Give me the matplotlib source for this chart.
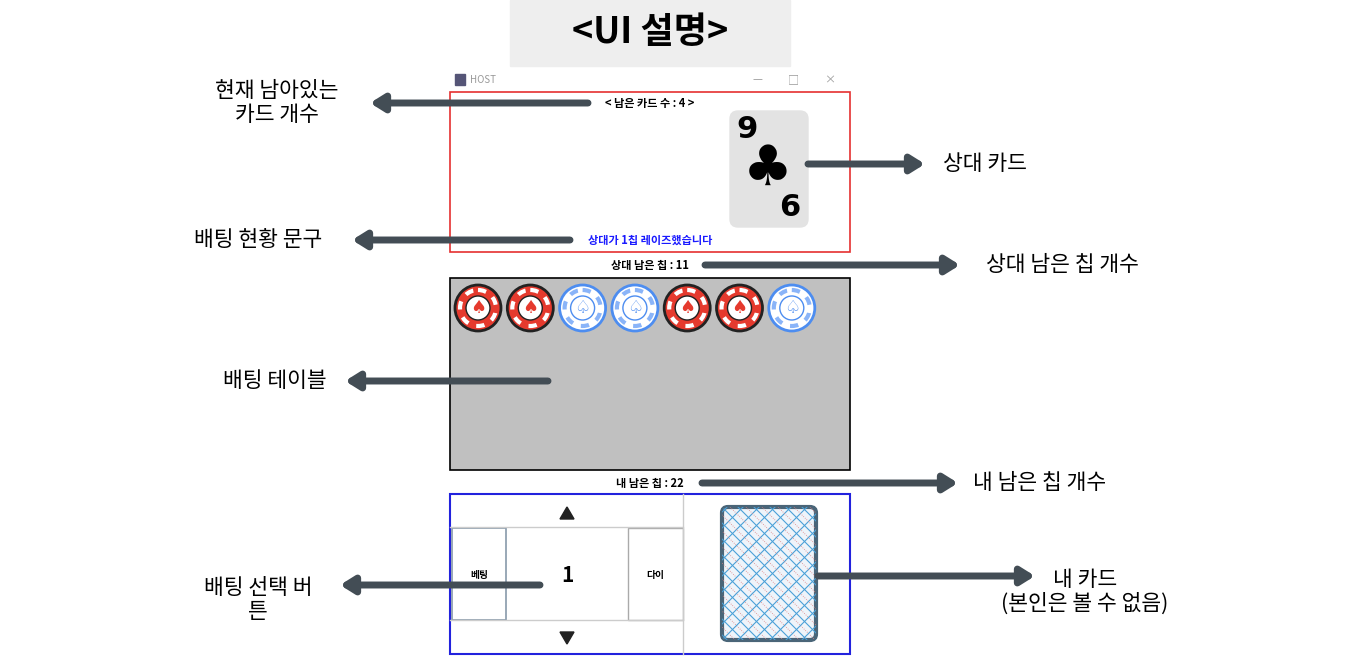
import matplotlib
matplotlib.use("Agg")
import matplotlib.pyplot as plt
from matplotlib.patches import Rectangle, Circle, FancyBboxPatch, Polygon

plt.rcParams['font.family'] = ['Noto Sans CJK KR', 'DejaVu Sans']

title = "<UI 설명>"
remaining_cards = 4
opp_chips = 11
my_chips = 22
bet_amount = 1
status_msg = "상대가 1칩 레이즈했습니다"
chip_colors = ["red", "red", "blue", "blue", "red", "red", "blue"]
# (text, text x, text y, arrow y, arrow start x, arrow end x)
labels = [("현재 남아있는\n카드 개수", 277, 103, 103, 588, 370),
          ("배팅 현황 문구", 258, 240, 240, 570, 352),
          ("배팅 테이블", 275, 381, 381, 548, 345),
          ("배팅 선택 버\n튼", 258, 600, 585, 540, 340),
          ("상대 카드", 985, 164, 164, 808, 925),
          ("상대 남은 칩 개수", 1062, 265, 265, 705, 960),
          ("내 남은 칩 개수", 1040, 483, 483, 702, 958),
          ("내 카드\n(본인은 볼 수 없음)", 1085, 592, 576, 818, 1035)]

fig = plt.figure(figsize=(13.63, 6.63), dpi=100)
ax = fig.add_axes([0, 0, 1, 1])
ax.set_xlim(0, 1363); ax.set_ylim(663, 0); ax.axis('off')

ax.add_patch(Rectangle((510, 0), 280, 66, color='#eeeeee'))
ax.text(650, 33, title, ha='center', va='center', fontsize=26, fontweight='bold')

ax.text(470, 80, "HOST", fontsize=7, color='#999999', va='center')
ax.add_patch(Rectangle((455, 74), 10, 11, color='#555577'))
for x, s in [(757, "—"), (793, "□"), (830, "×")]:
    ax.text(x, 80, s, fontsize=8, color='#999999', ha='center', va='center')

ax.add_patch(Rectangle((450, 92), 400, 160, fill=False, ec='#e53030', lw=1.2))
ax.text(650, 103, f"< 남은 카드 수 : {remaining_cards} >", ha='center', va='center', fontsize=8, fontweight='bold')
ax.add_patch(FancyBboxPatch((733, 114), 72, 110, boxstyle="round,pad=3,rounding_size=8", color='#e3e3e3'))
ax.text(747, 130, "9", ha='center', va='center', fontsize=22, fontweight='bold', family='DejaVu Sans')
ax.text(768, 170, "♣", ha='center', va='center', fontsize=40, family='DejaVu Sans')
ax.text(790, 208, "6", ha='center', va='center', fontsize=22, fontweight='bold', family='DejaVu Sans')
ax.text(650, 240, status_msg, ha='center', va='center', fontsize=8, fontweight='bold', color='#1a1aff')

ax.text(650, 265, f"상대 남은 칩 : {opp_chips}", ha='center', va='center', fontsize=8, fontweight='bold')
ax.add_patch(Rectangle((450, 278), 400, 192, fc='#c0c0c0', ec='black', lw=1.2))
for i, c in enumerate(chip_colors):
    cx, cy = 478 + i * 52.3, 308
    if c == "red":
        ax.add_patch(Circle((cx, cy), 23, fc='#e53a2e', ec='#222222', lw=2))
        ax.add_patch(Circle((cx, cy), 18, fill=False, ec='white', lw=3, ls=(0, (2, 2))))
        ax.add_patch(Circle((cx, cy), 12, fc='white', ec='#222222', lw=1))
        ax.text(cx, cy, "♠", ha='center', va='center', fontsize=13, color='#e53a2e', family='DejaVu Sans')
    else:
        ax.add_patch(Circle((cx, cy), 23, fc='white', ec='#4d8df0', lw=2))
        ax.add_patch(Circle((cx, cy), 18, fill=False, ec='#8ab4f8', lw=3, ls=(0, (2, 2))))
        ax.add_patch(Circle((cx, cy), 12, fc='white', ec='#4d8df0', lw=1))
        ax.text(cx, cy, "♤", ha='center', va='center', fontsize=13, color='#4d8df0', family='DejaVu Sans')

ax.text(650, 483, f"내 남은 칩 : {my_chips}", ha='center', va='center', fontsize=8, fontweight='bold')
ax.add_patch(Rectangle((450, 494), 400, 160, fc='white', ec='#2222dd', lw=1.5))
ax.plot([683, 683], [494, 654], color='#cccccc', lw=1)
ax.plot([450, 683], [527, 527], color='#cccccc', lw=1)
ax.plot([450, 683], [620, 620], color='#cccccc', lw=1)
ax.add_patch(Rectangle((452, 528), 54, 92, fc='white', ec='#8899aa', lw=1.2))
ax.add_patch(Rectangle((628, 528), 55, 92, fc='white', ec='#aaaaaa', lw=1))
ax.text(479, 575, "베팅", ha='center', va='center', fontsize=7, fontweight='bold')
ax.text(655, 575, "다이", ha='center', va='center', fontsize=7, fontweight='bold')
ax.text(567, 576, str(bet_amount), ha='center', va='center', fontsize=15, fontweight='bold')
ax.add_patch(Polygon([[560, 519], [574, 519], [567, 507]], color='#222222'))
ax.add_patch(Polygon([[560, 632], [574, 632], [567, 644]], color='#222222'))

card = FancyBboxPatch((722, 507), 94, 133, boxstyle="round,pad=0,rounding_size=6", fc='#eef4fa', ec='#4a6578', lw=3)
ax.add_patch(card)
pattern = []
for k in range(-9, 10):
    x0 = 722 + k * 16
    pattern += ax.plot([x0, x0 + 133], [507, 640], color='#4aa0d8', lw=0.8)
    pattern += ax.plot([x0 + 133, x0], [507, 640], color='#4aa0d8', lw=0.8)
    pattern += ax.plot([x0 + 8, x0 + 141], [507, 640], color='#e08080', lw=0.6, ls=':')
for ln in pattern:
    ln.set_clip_path(card)

arrow_kw = dict(arrowstyle='-|>,head_length=0.8,head_width=0.5', color='#434d55', lw=5, shrinkA=0, shrinkB=0)
for txt, tx, ty, ay, x0, x1 in labels:
    ax.annotate("", xy=(x1, ay), xytext=(x0, ay), arrowprops=arrow_kw)
    ax.text(tx, ty, txt, ha='center', va='center', fontsize=15.5, linespacing=1.1)

fig.savefig("out.png", dpi=100)
